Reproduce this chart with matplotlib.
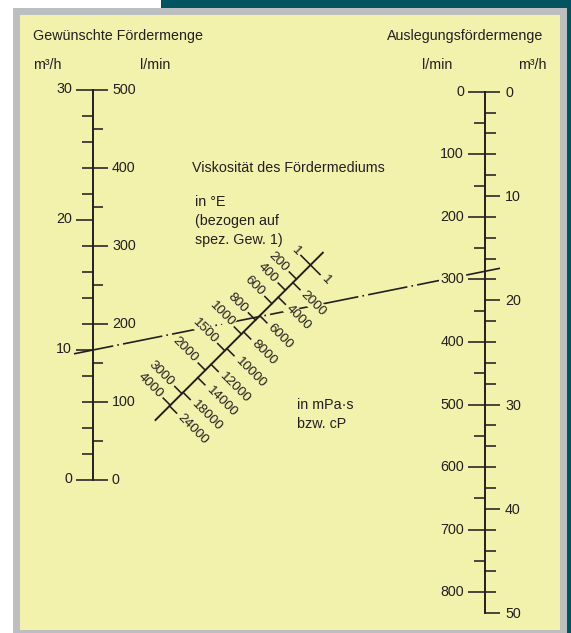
import numpy as np
import matplotlib
matplotlib.use("Agg")
import matplotlib.pyplot as plt
from matplotlib.patches import Rectangle

plt.rcParams['font.family'] = ['Liberation Sans', 'DejaVu Sans']

# ---------------- data ----------------
# left scale: desired flow
left_lmin_major = [0, 100, 200, 300, 400, 500]
left_lmin_minor = [50, 150, 250, 350, 450]
left_m3h_ticks = list(range(0, 31, 2))
left_m3h_labels = [0, 10, 20, 30]

# right scale: design flow
right_lmin_major = [0, 100, 200, 300, 400, 500, 600, 700, 800]
right_lmin_minor = [50, 150, 250, 350, 450, 550, 650, 750]
right_m3h_ticks = list(range(0, 51, 2))
right_m3h_labels = [0, 10, 20, 30, 40, 50]

# viscosity scale (graduation)
visc_engler = [1, 200, 400, 600, 800, 1000, 1500, 2000, 3000, 4000]
visc_engler_grad = [0.0, 14.1, 25.2, 38.6, 55.0, 69.1, 85.7, 105.2, 128.6, 140.2]
visc_mpas = [1, 2000, 4000, 6000, 8000, 10000, 12000, 14000, 18000, 24000]
visc_mpas_grad = [0.0, 17.6, 32.2, 50.7, 66.9, 83.6, 99.4, 112.7, 127.4, 141.0]

# example reading (dash-dot line)
example_q_m3h = 10
example_design_lmin = 287

# ---------------- layout ----------------
W, H = 571, 633
INK = '#231F20'
YELLOW = '#F3F2AD'
GRAY = '#BDBEC0'
TEAL = '#00535F'
FS = 10.3

fig = plt.figure(figsize=(W / 100, H / 100), dpi=100)
fig.patch.set_facecolor('white')
ax = fig.add_axes([0, 0, 1, 1])
ax.set_xlim(0, W)
ax.set_ylim(H, 0)
ax.axis('off')

ax.add_patch(Rectangle((161, 0), W - 161, 9, color=TEAL, lw=0, zorder=0))
ax.add_patch(Rectangle((567, 0), 4, H, color=TEAL, lw=0, zorder=0))
ax.add_patch(Rectangle((13, 7.5), 554, H - 7.5, color=GRAY, lw=0, zorder=0))
ax.add_patch(Rectangle((20, 15), 540, 615, color=YELLOW, lw=0, zorder=0))

LW = 1.15

# left axis geometry
LX, L_Y0, L_Y500 = 93.0, 480.0, 90.0
def left_y_lmin(v):
    return L_Y0 + (L_Y500 - L_Y0) * v / 500.0
def left_y_m3h(v):
    return left_y_lmin(v * 1000.0 / 60.0)

# right axis geometry
RX, R_Y0, R_Y800 = 485.0, 91.7, 592.3
def right_y_lmin(v):
    return R_Y0 + (R_Y800 - R_Y0) * v / 800.0
def right_y_m3h(v):
    return right_y_lmin(v * 1000.0 / 60.0)

def hline(x0, x1, y):
    ax.plot([x0, x1], [y, y], color=INK, lw=LW, solid_capstyle='butt', zorder=3)

bbox_bg = dict(facecolor=YELLOW, edgecolor='none', pad=0.6)

# ---- left axis ----
ax.plot([LX, LX], [left_y_lmin(0), left_y_lmin(500)], color=INK, lw=1.4, zorder=3)
for v in left_m3h_ticks:
    x0 = LX - (17 if v in left_m3h_labels else 11)
    hline(x0, LX, left_y_m3h(v))
for v in left_m3h_labels:
    ax.text(72, left_y_m3h(v) - 1, str(v), ha='right', va='center', fontsize=FS,
            color=INK, zorder=5)
for v in left_lmin_major:
    hline(LX, LX + 15, left_y_lmin(v))
    ax.text(112, left_y_lmin(v), str(v), ha='left', va='center', fontsize=FS,
            color=INK, zorder=5)
for v in left_lmin_minor:
    hline(LX, LX + 10, left_y_lmin(v))

# ---- right axis ----
ax.plot([RX, RX], [right_y_m3h(0), right_y_m3h(50)], color=INK, lw=1.4, zorder=3)
for v in right_lmin_major:
    hline(RX - 17, RX, right_y_lmin(v))
    ax.text(464, right_y_lmin(v), str(v), ha='right', va='center', fontsize=FS,
            color=INK, zorder=5, bbox=bbox_bg)
for v in right_lmin_minor:
    hline(RX - 11, RX, right_y_lmin(v))
for v in right_m3h_ticks:
    x1 = RX + (15 if v in right_m3h_labels else 11)
    hline(RX, x1, right_y_m3h(v))
for v in right_m3h_labels:
    ax.text(505, right_y_m3h(v) + 1, str(v), ha='left', va='center', fontsize=FS,
            color=INK, zorder=5)

# ---- viscosity scale (slanted at 45 deg) ----
V_TOP = 265.0          # foot y of the "1" graduation
V_C = 575.5            # line x + y = V_C
def vpt(s):
    y = V_TOP + s
    return np.array([V_C - y, y])
n_ul = np.array([-1.0, -1.0]) / np.sqrt(2)
n_lr = -n_ul

p_a, p_b = vpt(-12.3), vpt(155.0)
ax.plot([p_a[0], p_b[0]], [p_a[1], p_b[1]], color=INK, lw=1.4, zorder=3)

VFS = 9.7
for v, s in zip(visc_engler, visc_engler_grad):
    p = vpt(s)
    L = 13.5 if v == 1 else 10.0
    q = p + n_ul * L
    ax.plot([p[0], q[0]], [p[1], q[1]], color=INK, lw=LW, zorder=3)
    a = p + n_ul * (L + 3.5)
    ax.text(a[0], a[1], str(v), rotation=-45, rotation_mode='anchor', ha='right',
            va='center', fontsize=VFS, color=INK, zorder=5, bbox=bbox_bg)
for v, s in zip(visc_mpas, visc_mpas_grad):
    p = vpt(s)
    L = 13.5 if v == 1 else 10.0
    q = p + n_lr * L
    ax.plot([p[0], q[0]], [p[1], q[1]], color=INK, lw=LW, zorder=3)
    a = p + n_lr * (L + 4.0)
    ax.text(a[0], a[1], str(v), rotation=-45, rotation_mode='anchor', ha='left',
            va='center', fontsize=VFS, color=INK, zorder=5, bbox=bbox_bg)

# ---- example dash-dot line ----
pL = np.array([LX, left_y_m3h(example_q_m3h)])
pR = np.array([RX, right_y_lmin(example_design_lmin)])
d = (pR - pL) / np.linalg.norm(pR - pL)
s0 = pL - d * (LX - 74) / d[0]
s1 = pR + d * (500 - RX) / d[0]
ax.plot([s0[0], s1[0]], [s0[1], s1[1]], color=INK, lw=1.2, zorder=2,
        linestyle=(0, (24, 2.5, 1, 2.5)))

# ---- texts ----
ax.text(33, 36, 'Gewünschte Fördermenge', fontsize=FS, color=INK, va='center', ha='left')
ax.text(33, 65, 'm³/h', fontsize=FS, color=INK, va='center', ha='left')
ax.text(140, 65, 'l/min', fontsize=FS, color=INK, va='center', ha='left')
ax.text(543, 36, 'Auslegungsfördermenge', fontsize=FS, color=INK, va='center', ha='right')
ax.text(422, 65, 'l/min', fontsize=FS, color=INK, va='center', ha='left')
ax.text(547, 65, 'm³/h', fontsize=FS, color=INK, va='center', ha='right')
ax.text(192, 168, 'Viskosität des Fördermediums', fontsize=FS, color=INK,
        va='center', ha='left')
ax.text(195, 195, 'in °E\n(bezogen auf\nspez. Gew. 1)', fontsize=FS, color=INK,
        va='top', ha='left', linespacing=1.45)
ax.text(297, 398, 'in mPa·s\nbzw. cP', fontsize=FS, color=INK, va='top', ha='left',
        linespacing=1.45)

fig.savefig('out.png', dpi=100, facecolor=fig.get_facecolor())
